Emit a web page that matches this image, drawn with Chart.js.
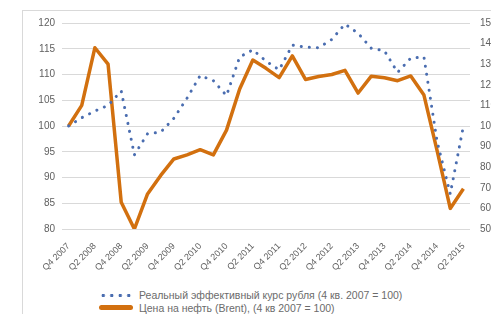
<!DOCTYPE html>
<html lang="ru">
<head>
    <meta charset="UTF-8">
    <title>Реальный эффективный курс рубля и цена на нефть</title>
    <script src="https://cdn.jsdelivr.net/npm/chart.js"></script>
    <style>
        html, body { margin: 0; padding: 0; background: #fff; overflow: hidden; }
        #frame {
            position: absolute; left: 22px; top: 10px; width: 520px; height: 330px;
            border: 1px solid #d9d9d9; box-sizing: border-box;
        }
        #chartBox { position: absolute; left: 0; top: -4px; width: 480px; height: 272px; }
        #legend {
            position: absolute; left: 76px; top: 278px;
            font-family: "Liberation Sans", Arial, sans-serif; font-size: 10.5px; color: #6b6b6b;
        }
        .row { display: flex; align-items: center; height: 12.5px; white-space: nowrap; }
        .sw { width: 34px; height: 5px; margin-right: 6px; }
        .dots {
            background: radial-gradient(circle, #4a6db0 1.5px, transparent 2px) repeat-x;
            background-size: 8.5px 5px;
        }
        .bar { background: #d2700f; border-radius: 3px; height: 5px; }
    </style>
</head>
<body>
<div id="frame">
    <div id="chartBox"><canvas id="myChart"></canvas></div>
    <div id="legend"></div>
</div>

<script>
    const quarters = ['Q4 2007', 'Q1 2008', 'Q2 2008', 'Q3 2008', 'Q4 2008', 'Q1 2009', 'Q2 2009', 'Q3 2009',
        'Q4 2009', 'Q1 2010', 'Q2 2010', 'Q3 2010', 'Q4 2010', 'Q1 2011', 'Q2 2011', 'Q3 2011', 'Q4 2011',
        'Q1 2012', 'Q2 2012', 'Q3 2012', 'Q4 2012', 'Q1 2013', 'Q2 2013', 'Q3 2013', 'Q4 2013', 'Q1 2014',
        'Q2 2014', 'Q3 2014', 'Q4 2014', 'Q1 2015', 'Q2 2015'];

    // левая ось
    const rubleReer = [100, 101.6, 102.9, 104, 106.8, 94.4, 98.5, 98.8, 101.5, 105.4, 109.8, 108.8, 105.9,
        113.4, 114.8, 112.6, 110.9, 115.7, 115.3, 115.2, 116.8, 119.8, 118, 115.1, 114.6, 110.4, 113.2,
        113.4, 97, 86.8, 100];

    // правая ось
    const oilBrent = [100, 110, 138, 130, 63, 50, 67, 76, 84, 86, 88.5, 86, 98, 118, 132, 128, 123.5, 134,
        122.6, 124, 125, 127, 116, 124.2, 123.4, 122, 124.3, 115, 88, 60, 69.5];

    const seriesNames = ['Реальный эффективный курс рубля (4 кв. 2007 = 100)',
        'Цена на нефть (Brent), (4 кв 2007 = 100)'];

    const tickFont = { family: '"Liberation Sans", Arial, sans-serif', size: 10 };
    const tickColor = '#5f5f5f';

    const ctx = document.getElementById('myChart').getContext('2d');
    const chart = new Chart(ctx, {
        type: 'line',
        data: {
            labels: quarters,
            datasets: [{
                label: seriesNames[0],
                data: rubleReer,
                yAxisID: 'y',
                borderColor: '#4a6db0',
                borderWidth: 3,
                borderDash: [0.1, 8],
                borderCapStyle: 'round',
                pointRadius: 0,
                tension: 0,
                fill: false
            }, {
                label: seriesNames[1],
                data: oilBrent,
                yAxisID: 'y1',
                borderColor: '#d2700f',
                borderWidth: 3.5,
                borderJoinStyle: 'round',
                pointRadius: 0,
                tension: 0,
                fill: false
            }]
        },
        options: {
            responsive: true,
            maintainAspectRatio: false,
            animation: false,
            layout: { padding: { top: 2, left: 0, right: 0, bottom: 0 } },
            plugins: { legend: { display: false }, tooltip: { enabled: false } },
            scales: {
                x: {
                    offset: true,
                    grid: { display: false },
                    border: { display: false },
                    ticks: {
                        autoSkip: false,
                        maxRotation: 45,
                        minRotation: 45,
                        padding: 4,
                        color: tickColor,
                        font: { family: tickFont.family, size: 9 },
                        callback: (v, i) => i % 2 === 0 ? quarters[i] : ''
                    },
                    afterFit: s => { s.height = 50; }
                },
                y: {
                    position: 'left',
                    min: 80,
                    max: 120,
                    ticks: { stepSize: 5, padding: 7, color: tickColor, font: tickFont },
                    grid: { color: '#d9d9d9', drawTicks: false },
                    border: { display: false },
                    afterFit: s => { s.width = 39; }
                },
                y1: {
                    position: 'right',
                    min: 50,
                    max: 150,
                    ticks: { stepSize: 10, padding: 10, color: tickColor, font: tickFont },
                    grid: { display: false, drawTicks: false },
                    border: { display: false },
                    afterFit: s => { s.width = 33; }
                }
            }
        }
    });

    // легенда снизу, как в оригинале
    const legend = document.getElementById('legend');
    seriesNames.forEach((name, i) => {
        const row = document.createElement('div');
        row.className = 'row';
        const sw = document.createElement('div');
        sw.className = 'sw ' + (i === 0 ? 'dots' : 'bar');
        const txt = document.createElement('span');
        txt.textContent = name;
        row.appendChild(sw);
        row.appendChild(txt);
        legend.appendChild(row);
    });
</script>
</body>
</html>
